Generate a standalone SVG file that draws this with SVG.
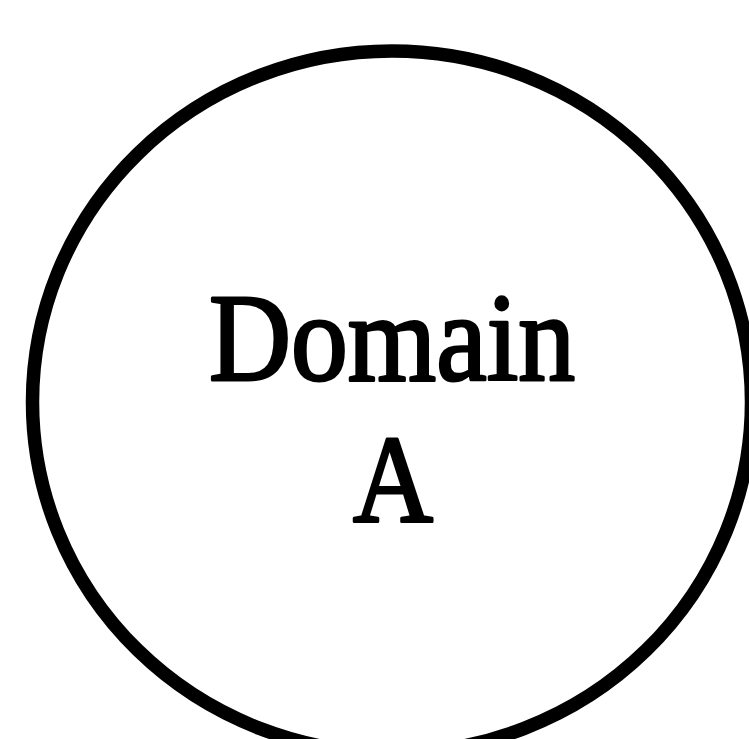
<svg xmlns="http://www.w3.org/2000/svg" width="749" height="739" viewBox="0 0 749 739">
<style>
.lbl{font-family:"Liberation Serif",serif;font-size:124px;fill:#000;stroke:#000;stroke-width:3;stroke-linejoin:round;text-anchor:middle}
</style>
<rect width="749" height="739" fill="#fff"/>
<g id="domainA">
<ellipse cx="392" cy="402" rx="359.5" ry="351" fill="none" stroke="#000" stroke-width="13.5"/>
<text class="lbl" x="392" y="380" textLength="366" lengthAdjust="spacingAndGlyphs">Domain</text>
<text class="lbl" x="393" y="522" textLength="80" lengthAdjust="spacingAndGlyphs">A</text>
</g>
<g id="connectors"/>
</svg>
